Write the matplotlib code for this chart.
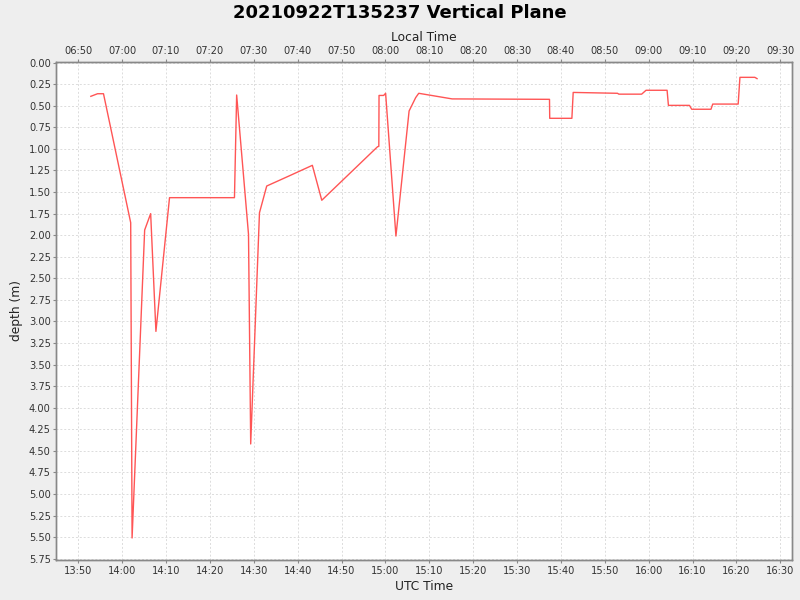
import pandas as pd
import numpy as np
import matplotlib
matplotlib.use('Agg')
import matplotlib.pyplot as plt
import matplotlib.dates as mdates
from matplotlib.ticker import MultipleLocator, FormatStrFormatter

# UTC sample times and depths
utc_times = ['13:52:52', '13:54:24', '13:55:45', '14:01:57', '14:02:16', '14:05:08',
             '14:06:30', '14:07:42', '14:10:48', '14:25:36', '14:26:06', '14:28:48',
             '14:29:18', '14:31:18', '14:32:57', '14:38:24', '14:43:21', '14:45:30',
             '14:58:12', '14:58:30', '14:58:33', '14:59:36', '15:00:03', '15:02:24',
             '15:05:24', '15:06:54', '15:07:36', '15:15:12', '15:37:24', '15:37:27',
             '15:42:30', '15:42:48', '15:52:54', '15:53:12', '15:58:24', '15:59:24',
             '16:04:12', '16:04:30', '16:09:18', '16:09:48', '16:14:12', '16:14:36',
             '16:20:24', '16:20:48', '16:24:12', '16:24:42']
depth = [0.39, 0.36, 0.36, 1.855, 5.51, 1.94,
         1.75, 3.115, 1.565, 1.565, 0.375, 1.99,
         4.42, 1.74, 1.43, 1.305, 1.19, 1.595,
         0.975, 0.97, 0.38, 0.38, 0.355, 2.01,
         0.56, 0.405, 0.355, 0.42, 0.425, 0.645,
         0.645, 0.345, 0.355, 0.365, 0.365, 0.32,
         0.32, 0.495, 0.495, 0.54, 0.54, 0.48,
         0.48, 0.17, 0.17, 0.185]

day = '2021-09-22 '
t = pd.to_datetime([day + s for s in utc_times])
offset = pd.Timedelta(hours=-7)  # local time offset

fig = plt.figure(figsize=(8, 6), dpi=100, facecolor='#EEEEEE')
ax = fig.add_axes([0.0704, 0.0667, 0.9196, 0.83])
ax.set_facecolor('white')

ax.plot(t, depth, color='#FF5555', linewidth=1.0)

xmin = pd.Timestamp(day + '13:45:00')
xmax = pd.Timestamp(day + '16:32:40')
ax.set_xlim(xmin, xmax)
ax.set_ylim(5.765, -0.008)

ax.xaxis.set_major_locator(mdates.MinuteLocator(byminute=range(0, 60, 10)))
ax.xaxis.set_major_formatter(mdates.DateFormatter('%H:%M'))
ax.yaxis.set_major_locator(MultipleLocator(0.25))
ax.yaxis.set_major_formatter(FormatStrFormatter('%.2f'))

ax.grid(True, color='#DCDCDC', linestyle=(0, (2, 2)), linewidth=0.7)

# local time on top
ax2 = ax.twiny()
ax2.set_xlim(xmin + offset, xmax + offset)
ax2.xaxis.set_major_locator(mdates.MinuteLocator(byminute=range(0, 60, 10)))
ax2.xaxis.set_major_formatter(mdates.DateFormatter('%H:%M'))

for a in (ax, ax2):
    for sp in a.spines.values():
        sp.set_color('#888888')
        sp.set_linewidth(1.0)
    a.tick_params(labelsize=7.1, colors='#888888', labelcolor='#333333',
                  length=2, width=0.8, pad=2)

ax.set_xlabel('UTC Time', fontsize=8.8, color='#222222', labelpad=3)
ax.set_ylabel('depth (m)', fontsize=8.8, color='#222222', labelpad=4)
ax2.set_xlabel('Local Time', fontsize=8.8, color='#222222', labelpad=4)

fig.text(0.5, 0.978, '20210922T135237 Vertical Plane', ha='center', va='center',
         fontsize=13, fontweight='bold', color='black')

fig.savefig('out.png', dpi=100, facecolor=fig.get_facecolor())
